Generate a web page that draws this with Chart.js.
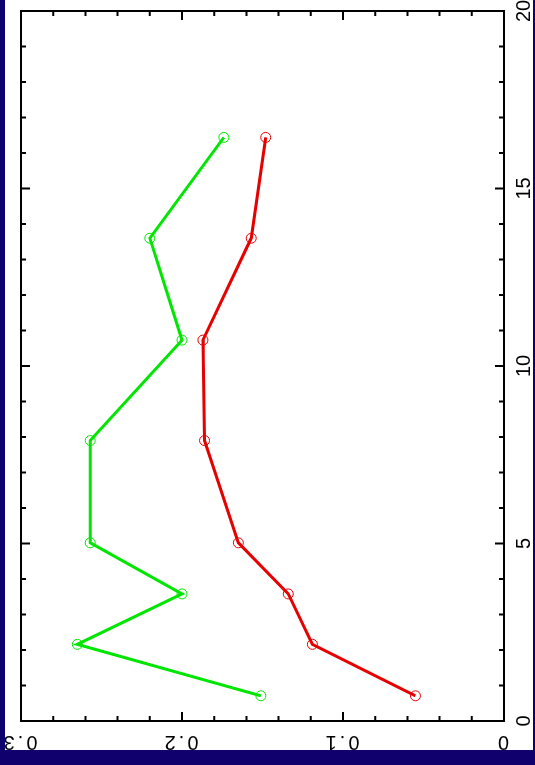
<!DOCTYPE html>
<html>
<head>
<meta charset="utf-8">
<script src="https://cdn.jsdelivr.net/npm/chart.js@4"></script>
<style>
  html, body { margin: 0; padding: 0; }
  body { width: 535px; height: 765px; background: #10006e; overflow: hidden; position: relative; }
  /* plot is laid out landscape, then turned onto the page */
  #yatay {
    position: absolute; left: 0; top: 0;
    width: 765px; height: 535px;
    transform-origin: 0 0;
    transform: translateY(765px) rotate(-90deg);
  }
  #kagit { position: absolute; left: 15px; top: 5px; width: 750px; height: 528px; background: #fff; }
</style>
</head>
<body>
<div id="yatay">
  <div id="kagit"><canvas id="grafik" width="750" height="528"></canvas></div>
</div>
<script>
// ===============================
// VERİ
// ===============================
const konumlar   = [0.71, 2.16, 3.58, 5.02, 7.9, 10.73, 13.6, 16.44];
const yesilSeri  = [0.151, 0.265, 0.200, 0.257, 0.257, 0.200, 0.220, 0.174];
const kirmiziSeri = [0.055, 0.119, 0.134, 0.165, 0.186, 0.187, 0.157, 0.148];

const xEtiketleri = [0, 5, 10, 15, 20];
const yEtiketleri = [0, 0.1, 0.2, 0.3];

const YAZI = "'Liberation Sans', Arial, sans-serif";

// ===============================
// YARDIMCI
// ===============================
function noktalar(seri) {
  return seri.map((v, i) => ({ x: konumlar[i], y: v }));
}

function seri(veri, renk) {
  return {
    data: noktalar(veri),
    showLine: true,
    borderColor: renk,
    borderWidth: 3,
    pointRadius: 5,
    pointBorderWidth: 1,
    pointBorderColor: renk,
    pointBackgroundColor: "rgba(0,0,0,0)",
    tension: 0
  };
}

// çerçeve, içe dönük tikler ve dik yazılmış y etiketleri
const cerceve = {
  id: "cerceve",
  afterDatasetsDraw(chart) {
    const { ctx, chartArea: a, scales } = chart;
    const sx = scales.x, sy = scales.y;
    ctx.save();
    ctx.strokeStyle = "#000";
    ctx.lineWidth = 2;
    ctx.strokeRect(a.left, a.top, a.right - a.left, a.bottom - a.top);

    ctx.beginPath();
    for (let v = 0; v <= 20; v += 1) {
      const px = sx.getPixelForValue(v);
      const L = v % 5 === 0 ? 9 : 5;
      ctx.moveTo(px, a.bottom); ctx.lineTo(px, a.bottom - L);
      ctx.moveTo(px, a.top);    ctx.lineTo(px, a.top + L);
    }
    for (let k = 0; k <= 15; k++) {
      const py = sy.getPixelForValue(k * 0.02);
      const L = k % 5 === 0 ? 9 : 5;
      ctx.moveTo(a.left, py);  ctx.lineTo(a.left + L, py);
      ctx.moveTo(a.right, py); ctx.lineTo(a.right - L, py);
    }
    ctx.stroke();

    ctx.fillStyle = "#000";
    ctx.font = "20px " + YAZI;
    ctx.letterSpacing = "3px";
    ctx.textAlign = "center";
    ctx.textBaseline = "middle";
    yEtiketleri.forEach(v => {
      const py = sy.getPixelForValue(v);
      ctx.save();
      ctx.translate(8, py);
      ctx.rotate(-Math.PI / 2);
      ctx.fillText(v === 0 ? "0" : v.toFixed(1), 2, 0);
      ctx.restore();
    });
    ctx.restore();
  }
};

// ===============================
// GRAFİK
// ===============================
new Chart(document.getElementById("grafik"), {
  type: "scatter",
  data: {
    datasets: [seri(yesilSeri, "#00e600"), seri(kirmiziSeri, "#e60000")]
  },
  options: {
    responsive: false,
    animation: false,
    layout: { padding: { left: 29, right: 11, top: 16, bottom: 0 } },
    plugins: { legend: { display: false }, tooltip: { enabled: false } },
    scales: {
      x: {
        type: "linear",
        min: 0,
        max: 20,
        afterFit: s => { s.height = 29; s.paddingLeft = 0; s.paddingRight = 0; },
        afterBuildTicks: s => { s.ticks = xEtiketleri.map(v => ({ value: v })); },
        grid: { display: false, drawTicks: false },
        border: { display: false },
        ticks: {
          color: "#000",
          padding: 8,
          maxRotation: 0,
          autoSkip: false,
          font: { family: YAZI, size: 20 }
        }
      },
      y: {
        type: "linear",
        min: 0,
        max: 0.3,
        display: false
      }
    }
  },
  plugins: [cerceve]
});
</script>
</body>
</html>
